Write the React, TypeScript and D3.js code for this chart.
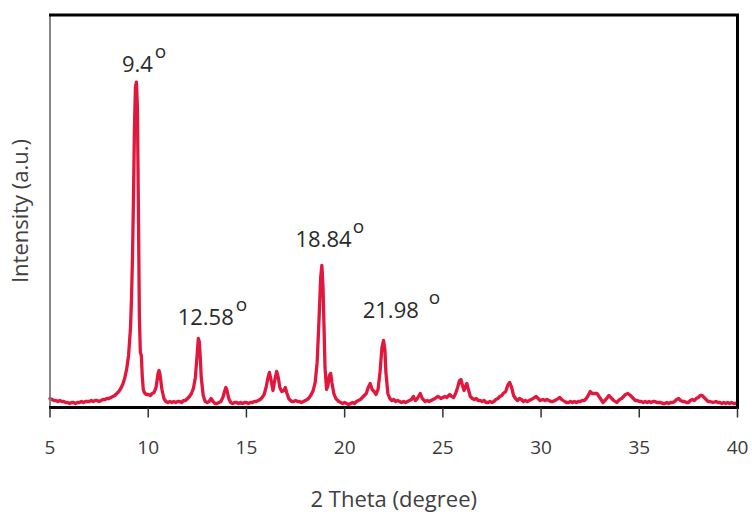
import React from "react";
import * as d3 from "d3";

const twoTheta: number[] = [
  5.0, 5.1, 5.2, 5.3, 5.4, 5.5, 5.6, 5.7, 5.8, 5.9, 6.0, 6.1, 6.2, 6.3, 6.4, 6.5, 6.6, 6.7, 6.8, 6.9,
  7.0, 7.1, 7.2, 7.3, 7.4, 7.5, 7.6, 7.7, 7.8, 7.9, 8.0, 8.1, 8.2, 8.3, 8.4, 8.5, 8.6, 8.7, 8.8, 8.9,
  9.0, 9.1, 9.15, 9.2, 9.25, 9.3, 9.35, 9.4, 9.45, 9.5, 9.55, 9.6, 9.65, 9.7, 9.75, 9.8, 9.9,
  10.0, 10.1, 10.2, 10.3, 10.4, 10.5, 10.55, 10.6, 10.7, 10.8, 10.9,
  11.0, 11.1, 11.2, 11.3, 11.4, 11.5, 11.6, 11.7, 11.8, 11.9,
  12.0, 12.1, 12.2, 12.3, 12.4, 12.5, 12.55, 12.6, 12.65, 12.7, 12.8, 12.9,
  13.0, 13.1, 13.2, 13.3, 13.4, 13.5, 13.6, 13.7, 13.8, 13.9, 13.95,
  14.0, 14.1, 14.2, 14.3, 14.4, 14.5, 14.6, 14.7, 14.8, 14.9,
  15.0, 15.1, 15.2, 15.3, 15.4, 15.5, 15.6, 15.7, 15.8, 15.9,
  16.0, 16.1, 16.17, 16.25, 16.35, 16.45, 16.54, 16.62, 16.7, 16.8, 16.9, 16.98,
  17.05, 17.15, 17.3, 17.4, 17.5, 17.6, 17.7, 17.8, 17.9,
  18.0, 18.1, 18.2, 18.3, 18.4, 18.5, 18.6, 18.7, 18.78, 18.84, 18.9, 18.95,
  19.0, 19.08, 19.15, 19.22, 19.29, 19.35, 19.45, 19.55, 19.7, 19.8, 19.9,
  20.0, 20.1, 20.2, 20.3, 20.4, 20.5, 20.6, 20.7, 20.8, 20.9,
  21.0, 21.1, 21.2, 21.3, 21.4, 21.5, 21.6, 21.7, 21.8, 21.9, 21.98,
  22.05, 22.1, 22.2, 22.3, 22.4, 22.5, 22.6, 22.7, 22.8, 22.9,
  23.0, 23.1, 23.2, 23.3, 23.4, 23.5, 23.6, 23.7, 23.85, 23.95,
  24.1, 24.2, 24.3, 24.4, 24.5, 24.6, 24.75, 24.9,
  25.0, 25.1, 25.2, 25.35, 25.45, 25.55, 25.65, 25.75, 25.85, 25.92,
  26.0, 26.08, 26.15, 26.22, 26.3, 26.4, 26.5, 26.6, 26.7, 26.8, 26.9,
  27.0, 27.1, 27.2, 27.3, 27.4, 27.5, 27.6, 27.7, 27.8, 27.9,
  28.0, 28.07, 28.2, 28.3, 28.4, 28.5, 28.6, 28.7, 28.8, 28.9,
  29.0, 29.1, 29.2, 29.3, 29.4, 29.5, 29.6, 29.75, 29.85, 29.95,
  30.1, 30.2, 30.3, 30.4, 30.5, 30.6, 30.7, 30.8, 30.95,
  31.05, 31.2, 31.3, 31.4, 31.5, 31.6, 31.7, 31.8, 31.9,
  32.0, 32.1, 32.2, 32.3, 32.4, 32.5, 32.6, 32.7, 32.85, 32.95,
  33.05, 33.15, 33.3, 33.45, 33.55, 33.7, 33.85,
  34.0, 34.1, 34.2, 34.3, 34.42, 34.55, 34.7, 34.8, 34.9,
  35.0, 35.1, 35.2, 35.3, 35.4, 35.5, 35.6, 35.7, 35.8, 35.9,
  36.0, 36.1, 36.2, 36.3, 36.4, 36.5, 36.6, 36.7, 36.8, 36.9,
  37.0, 37.1, 37.2, 37.3, 37.4, 37.5, 37.6, 37.7, 37.8, 37.9,
  38.0, 38.1, 38.2, 38.3, 38.4, 38.5, 38.6, 38.75, 38.9,
  39.0, 39.1, 39.2, 39.3, 39.4, 39.5, 39.6, 39.7, 39.8, 39.9, 40.0,
];

const intensity: number[] = [
  9, 8, 7, 7, 6, 7, 6, 6, 5, 5, 4, 5, 5, 4, 5, 5, 6, 5, 6, 6,
  6, 7, 6, 7, 7, 6, 7, 8, 8, 9, 9, 10, 11, 12, 14, 16, 19, 23, 29, 38,
  52, 80, 110, 150, 210, 280, 320, 325, 300, 200, 90, 55, 52, 30, 18, 15, 13,
  13, 12, 14, 15, 20, 34, 37, 33, 18, 9, 6,
  5, 6, 5, 6, 5, 6, 6, 5, 7, 7,
  9, 11, 14, 19, 30, 55, 69, 66, 50, 30, 12, 6,
  5, 6, 9, 6, 4, 4, 5, 6, 10, 17, 20,
  18, 9, 5, 4, 5, 5, 4, 5, 4, 5,
  5, 4, 5, 5, 6, 6, 7, 8, 10, 13,
  20, 30, 35, 28, 17, 28, 36, 30, 20, 16, 17, 20,
  15, 9, 6, 6, 7, 6, 6, 5, 6,
  7, 8, 10, 13, 17, 25, 45, 90, 130, 142, 120, 80,
  40, 18, 22, 32, 34, 25, 14, 9, 6, 5, 4,
  5, 4, 3, 4, 5, 4, 6, 7, 8, 10,
  12, 14, 20, 24, 18, 16, 13, 18, 35, 60, 67,
  58, 35, 14, 9, 7, 8, 6, 7, 6, 5,
  6, 5, 6, 7, 8, 11, 7, 9, 14, 9,
  6, 7, 6, 7, 8, 9, 11, 9,
  10, 11, 10, 13, 11, 10, 14, 20, 27, 28,
  22, 17, 21, 24, 18, 11, 9, 8, 9, 7, 7,
  6, 7, 5, 5, 6, 5, 6, 8, 9, 11,
  12, 14, 16, 22, 25, 20, 12, 9, 7, 9,
  8, 6, 7, 6, 7, 8, 9, 11, 9, 7,
  8, 7, 8, 7, 6, 6, 7, 8, 10,
  8, 6, 5, 5, 6, 5, 6, 5, 6,
  6, 7, 7, 9, 12, 16, 14, 14, 14, 11,
  8, 5, 8, 12, 10, 7, 5,
  8, 9, 11, 13, 14, 12, 9, 7, 7,
  6, 6, 5, 6, 5, 6, 5, 6, 6, 5,
  5, 5, 4, 4, 5, 4, 5, 5, 6, 8,
  9, 7, 6, 6, 5, 5, 7, 8, 7, 9,
  10, 12, 12, 10, 8, 6, 6, 5, 6,
  5, 5, 4, 5, 4, 5, 4, 5, 4, 4, 5,
];

const xTicks: number[] = [5, 10, 15, 20, 25, 30, 35, 40];

const peakLabels: string[] = ["9.4", "12.58", "18.84", "21.98"];
const peakLabelX: number[] = [8.66, 11.5, 17.5, 20.92];
const peakLabelY: number[] = [335, 82, 160, 89];
const peakDegreeGap: number[] = [2, 2, 1, 10];

const xTitle = "2 Theta (degree)";
const yTitle = "Intensity (a.u.)";

const W = 752;
const H = 518;
const left = 50;
const right = 737.5;
const top = 15;
const bottom = 407.5;

export default function App() {
  const x = d3.scaleLinear().domain([5, 40]).range([left, right]);
  const y = d3.scaleLinear().domain([0, 392]).range([bottom, top]);

  const points: [number, number][] = twoTheta.map((t, i) => [t, intensity[i]]);
  const line = d3
    .line<[number, number]>()
    .x((d) => x(d[0]))
    .y((d) => y(d[1]))
    .curve(d3.curveLinear);

  const font = "'Open Sans', 'DejaVu Sans', sans-serif";

  return (
    <svg
      width={W}
      height={H}
      style={{ position: "absolute", left: 0, top: 0, background: "#fff" }}
      fontFamily={font}
    >
      <rect x={0} y={0} width={W} height={H} fill="#fff" />
      {/* data */}
      <path
        d={line(points) || ""}
        fill="none"
        stroke="#E1183E"
        strokeWidth={3.3}
        strokeLinejoin="round"
        strokeLinecap="round"
      />
      {/* frame */}
      <line x1={left} x2={left} y1={top} y2={bottom} stroke="#7a7a7a" strokeWidth={1.8} />
      <line x1={left - 1} x2={right + 1.5} y1={top} y2={top} stroke="#000" strokeWidth={3} />
      <line x1={right} x2={right} y1={top} y2={bottom} stroke="#000" strokeWidth={3} />
      <line x1={left - 1} x2={right + 1.5} y1={bottom} y2={bottom} stroke="#000" strokeWidth={3} />
      {/* ticks */}
      {xTicks.map((t) => (
        <g key={t}>
          <line x1={x(t)} x2={x(t)} y1={bottom} y2={bottom + 10} stroke="#333" strokeWidth={1.5} />
          <text
            x={x(t)}
            y={454}
            textAnchor="middle"
            fontSize={19}
            fill="#3a3a3a"
          >
            {t}
          </text>
        </g>
      ))}
      {/* peak labels */}
      {peakLabels.map((lab, i) => (
        <text
          key={lab}
          x={x(peakLabelX[i])}
          y={y(peakLabelY[i])}
          textAnchor="start"
          fontSize={22}
          fill="#2a2a2a"
        >
          {lab}
          <tspan dx={peakDegreeGap[i]} dy={-14} fontSize={19}>
            o
          </tspan>
        </text>
      ))}
      {/* axis titles */}
      <text x={(left + right) / 2} y={507} textAnchor="middle" fontSize={22} fill="#404040">
        {xTitle}
      </text>
      <text
        transform={`translate(28, ${211}) rotate(-90)`}
        textAnchor="middle"
        fontSize={22}
        fill="#404040"
      >
        {yTitle}
      </text>
    </svg>
  );
}
